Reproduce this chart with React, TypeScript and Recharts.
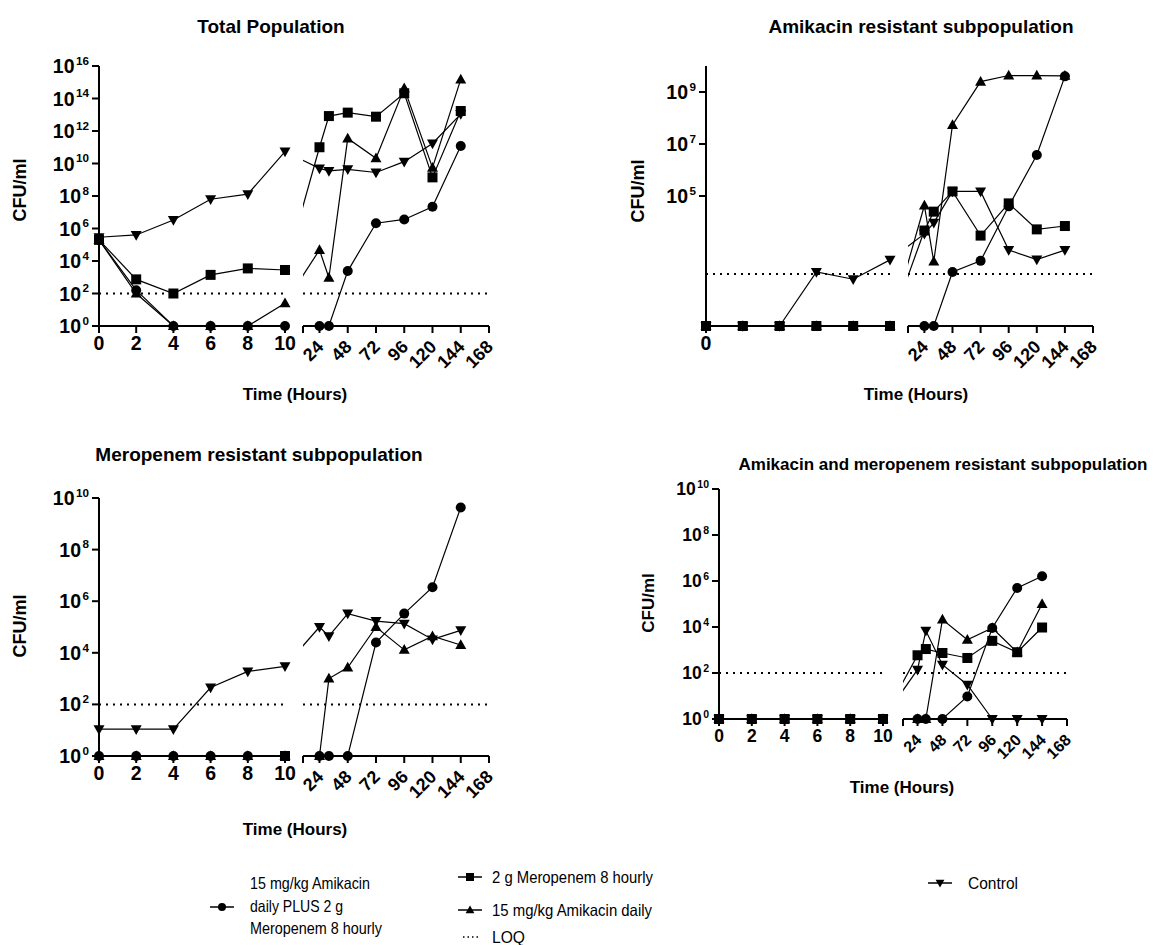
import React from "react";
import { LineChart, Line, XAxis, YAxis, ReferenceLine } from "recharts";

const FONT = '"Liberation Sans", Arial, Helvetica, sans-serif';

// sampling times (hours); the first six sit on the 0–10 h segment of the broken axis
const HOURS = [0, 2, 4, 6, 8, 10, 24, 32, 48, 72, 96, 120, 144];
const EARLY_COUNT = 6;
const EARLY_TICKS = [0, 2, 4, 6, 8, 10];
const ZERO_TICK = [0];
const LATE_TICKS = [10, 24, 48, 72, 96, 120, 144, 168];
const LOQ = 100;

const Y_TICKS_16 = [1, 1e2, 1e4, 1e6, 1e8, 1e10, 1e12, 1e14, 1e16];
const Y_TICKS_10 = [1, 1e2, 1e4, 1e6, 1e8, 1e10];
const Y_TICKS_ODD = [1e5, 1e7, 1e9];

// ── Total population (CFU/ml) ───────────────────────────────────────────────
const totalCombo = [2e5, 1.6e2, 1, 1, 1, 1, 1, 1, 2.4e3, 2.1e6, 3.6e6, 2.2e7, 1.2e11];
const totalMero = [2e5, 7.4e2, 1e2, 1.4e3, 3.5e3, 2.8e3, 1e11, 8.3e12, 1.35e13, 7.6e12, 2.1e14, 1.4e9, 1.7e13];
const totalAmik = [2e5, 1e2, 1, 1, 1, 25, 4.8e4, 9.3e2, 3.5e11, 2.1e10, 4.2e14, 5.5e9, 1.5e15];
const totalControl = [2.9e5, 4e5, 3.3e6, 6.3e7, 1.3e8, 5.4e10, 5e9, 3.5e9, 4.4e9, 2.8e9, 1.3e10, 1.7e11, 1.1e13];

// ── Amikacin resistant subpopulation ────────────────────────────────────────
const amiResCombo = [1, 1, 1, 1, 1, 1, 1, 1, 1.2e2, 3.2e2, 4e4, 3.8e6, 4e9];
const amiResMero = [1, 1, 1, 1, 1, 1, 4.7e3, 2.5e4, 1.5e5, 3e3, 5.2e4, 5.2e3, 7e3];
const amiResAmik = [1, 1, 1, 1, 1, 1, 4.3e4, 3e2, 5.4e7, 2.5e9, 4.3e9, 4.3e9, 4.2e9];
const amiResControl = [1, 1, 1, 1.2e2, 63, 3.5e2, 3.5e3, 9.3e3, 1.5e5, 1.5e5, 8.3e2, 3.6e2, 8.3e2];

// ── Meropenem resistant subpopulation ───────────────────────────────────────
const merResCombo = [1, 1, 1, 1, 1, 1, 1, 1, 1, 2.5e4, 3.3e5, 3.5e6, 4.3e9];
const merResMero = [null, null, null, null, null, 1, null, null, null, null, null, null, null];
const merResAmik = [1, 1, 1, 1, 1, 1, 1, 1e3, 2.7e3, 1e5, 1.3e4, 4.4e4, 2e4];
const merResControl = [11, 11, 11, 4.5e2, 1.9e3, 3e3, 1e5, 4.4e4, 3.3e5, 1.7e5, 1.35e5, 3.3e4, 7.4e4];

// ── Amikacin and meropenem resistant subpopulation ──────────────────────────
const dualResCombo = [1, 1, 1, 1, 1, 1, 1, 1, 1, 9.5, 9e3, 5e5, 1.6e6];
const dualResMero = [1, 1, 1, 1, 1, 1, 5.9e2, 1.1e3, 7.4e2, 4.5e2, 2.5e3, 8e2, 9.5e3];
const dualResAmik = [1, 1, 1, 1, 1, 1, 1, 1, 2.1e4, 2.8e3, 9e3, 8e2, 1e5];
const dualResControl = [1, 1, 1, 1, 1, 1, 1.4e2, 6.9e3, 2.3e2, 31, 1, 1, 1];

type Key = "combo" | "mero" | "amik" | "control";
type Shape = "circle" | "square" | "up" | "down";
type Vals = (number | null)[];

const SHAPES: Record<Key, Shape> = { combo: "circle", mero: "square", amik: "up", control: "down" };

interface Panel {
  title: string;
  titleX: number;
  titleY: number;
  titleSize: number;
  xLabelX: number;
  xLabelY: number;
  yLabelX: number;
  yLabelY: number;
  labelSize: number;
  tickFont: number;
  top: number;
  bottom: number;
  lx0: number;
  lx1: number;
  rx0: number;
  rx1: number;
  yMax: number;
  yTicks: number[];
  earlyTicks: number[];
  series: Record<Key, Vals>;
  order: Key[];
}

const PANELS: Panel[] = [
  {
    title: "Total Population", titleX: 271, titleY: 33, titleSize: 19,
    xLabelX: 295, xLabelY: 400, yLabelX: 20, yLabelY: 190, labelSize: 18, tickFont: 19.5,
    top: 66, bottom: 326, lx0: 99, lx1: 285, rx0: 303, rx1: 489,
    yMax: 1e16, yTicks: Y_TICKS_16, earlyTicks: EARLY_TICKS,
    series: { combo: totalCombo, mero: totalMero, amik: totalAmik, control: totalControl },
    order: ["control", "amik", "combo", "mero"],
  },
  {
    title: "Amikacin resistant subpopulation", titleX: 921, titleY: 33, titleSize: 19,
    xLabelX: 916, xLabelY: 400, yLabelX: 638, yLabelY: 191, labelSize: 18, tickFont: 19.5,
    top: 66, bottom: 326, lx0: 706, lx1: 890, rx0: 908, rx1: 1093,
    yMax: 1e10, yTicks: Y_TICKS_ODD, earlyTicks: ZERO_TICK,
    series: { combo: amiResCombo, mero: amiResMero, amik: amiResAmik, control: amiResControl },
    order: ["control", "amik", "combo", "mero"],
  },
  {
    title: "Meropenem resistant subpopulation", titleX: 259, titleY: 461, titleSize: 19,
    xLabelX: 295, xLabelY: 835, yLabelX: 20, yLabelY: 626, labelSize: 18, tickFont: 19.5,
    top: 498, bottom: 756, lx0: 99, lx1: 285, rx0: 303, rx1: 489,
    yMax: 1e10, yTicks: Y_TICKS_10, earlyTicks: EARLY_TICKS,
    series: { combo: merResCombo, mero: merResMero, amik: merResAmik, control: merResControl },
    order: ["control", "amik", "mero", "combo"],
  },
  {
    title: "Amikacin and meropenem resistant subpopulation", titleX: 943, titleY: 470, titleSize: 17,
    xLabelX: 902, xLabelY: 793, yLabelX: 648, yLabelY: 603, labelSize: 17, tickFont: 17.5,
    top: 489, bottom: 719, lx0: 719, lx1: 883, rx0: 903, rx1: 1067,
    yMax: 1e10, yTicks: Y_TICKS_10, earlyTicks: EARLY_TICKS,
    series: { combo: dualResCombo, mero: dualResMero, amik: dualResAmik, control: dualResControl },
    order: ["control", "amik", "combo", "mero"],
  },
];

const M_TOP = 12;
const M_RIGHT = 20;
const Y_W = 95;
const X_H = 48;
const R_ML = 12;
const R_MR = 14;
const AXIS = { stroke: "#000", strokeWidth: 2 };

function marker(shape: Shape, size: number) {
  return (props: any) => {
    const { cx, cy, index } = props;
    const k = `m-${index}`;
    if (cx == null || cy == null || !isFinite(cy)) return <g key={k} />;
    const r = size / 2;
    if (shape === "circle") return <circle key={k} cx={cx} cy={cy} r={r} fill="#000" />;
    if (shape === "square")
      return <rect key={k} x={cx - r} y={cy - r} width={size} height={size} fill="#000" />;
    const s = shape === "up" ? 1 : -1;
    const d = `M${cx} ${cy - s * r * 1.15}L${cx + r * 1.1} ${cy + s * r * 0.8}L${cx - r * 1.1} ${cy + s * r * 0.8}Z`;
    return <path key={k} d={d} fill="#000" />;
  };
}

function PowTick(props: any) {
  const { x, y, payload, fontSize } = props;
  const exp = Math.round(Math.log10(payload.value));
  return (
    <text x={x} y={y + fontSize * 0.36} textAnchor="end" fontFamily={FONT} fontWeight="bold" fontSize={fontSize} fill="#000">
      10
      <tspan dx={1.5} dy={-fontSize * 0.42} fontSize={fontSize * 0.6}>{exp}</tspan>
    </text>
  );
}

function EarlyTick(props: any) {
  const { x, y, payload, fontSize } = props;
  return (
    <text x={x} y={y} dy="0.78em" textAnchor="middle" fontFamily={FONT} fontWeight="bold" fontSize={fontSize} fill="#000">
      {payload.value}
    </text>
  );
}

function SlantTick(props: any) {
  const { x, y, payload, fontSize } = props;
  if (payload.value === 10) return <g />;
  const ax = x + 5;
  const ay = y + 13;
  return (
    <text x={ax} y={ay} transform={`rotate(-45 ${ax} ${ay})`} textAnchor="end" fontFamily={FONT} fontWeight="bold" fontSize={fontSize} fill="#000">
      {payload.value}
    </text>
  );
}

function rows(p: Panel, from: number, to: number) {
  return HOURS.slice(from, to).map((t, j) => {
    const row: Record<string, number | null> = { t };
    (Object.keys(p.series) as Key[]).forEach((k) => {
      row[k] = p.series[k][from + j];
    });
    return row;
  });
}

function PanelView({ p }: { p: Panel }) {
  const early = rows(p, 0, EARLY_COUNT);
  const late = rows(p, EARLY_COUNT, HOURS.length);
  const h = p.bottom - p.top + M_TOP + X_H;
  const leftW = p.lx1 - p.lx0 + Y_W + M_RIGHT;
  const rightW = p.rx1 - p.rx0 + R_ML + R_MR;

  // hidden axis that carries the 10 h → 24 h connectors across the break,
  // so they run straight between the two segments and get clipped in the gap
  const rStart = LATE_TICKS[0];
  const rEnd = LATE_TICKS[LATE_TICKS.length - 1];
  const r24 = p.rx0 + ((24 - rStart) * (p.rx1 - p.rx0)) / (rEnd - rStart);
  const slope = (r24 - p.lx1) / 14;
  const bridgeDomain = [10 + (p.rx0 - p.lx1) / slope, 10 + (p.rx1 - p.lx1) / slope];

  const lineProps = { type: "linear" as const, stroke: "#000", strokeWidth: 1.2, activeDot: false, isAnimationActive: false };
  const loq = <ReferenceLine y={LOQ} stroke="#000" strokeWidth={2} strokeDasharray="2 5" />;

  return (
    <>
      <div style={{ position: "absolute", left: p.lx0 - Y_W, top: p.top - M_TOP }}>
        <LineChart width={leftW} height={h} data={early} margin={{ top: M_TOP, right: M_RIGHT, bottom: 0, left: 0 }}>
          <XAxis
            dataKey="t"
            type="number"
            domain={[0, 10]}
            ticks={p.earlyTicks}
            interval={0}
            height={X_H}
            axisLine={AXIS}
            tickLine={AXIS}
            tickSize={7}
            tick={(t: any) => <EarlyTick {...t} fontSize={p.tickFont} />}
          />
          <YAxis
            type="number"
            scale="log"
            domain={[1, p.yMax]}
            ticks={p.yTicks}
            interval={0}
            width={Y_W}
            axisLine={AXIS}
            tickLine={AXIS}
            tickSize={7}
            tickMargin={3}
            tick={(t: any) => <PowTick {...t} fontSize={p.tickFont} />}
          />
          {loq}
          {p.order.map((k) => (
            <Line key={k} dataKey={k} {...lineProps} dot={marker(SHAPES[k], 10)} />
          ))}
        </LineChart>
      </div>
      <div style={{ position: "absolute", left: p.rx0 - R_ML, top: p.top - M_TOP }}>
        <LineChart width={rightW} height={h} data={late} margin={{ top: M_TOP, right: R_MR, bottom: 0, left: R_ML }}>
          <XAxis
            dataKey="t"
            type="number"
            domain={[rStart, rEnd]}
            ticks={LATE_TICKS}
            interval={0}
            height={X_H}
            axisLine={AXIS}
            tickLine={AXIS}
            tickSize={7}
            tick={(t: any) => <SlantTick {...t} fontSize={p.tickFont - 1.5} />}
          />
          <XAxis xAxisId="bridge" dataKey="t" type="number" domain={bridgeDomain} allowDataOverflow hide />
          <YAxis type="number" scale="log" domain={[1, p.yMax]} hide />
          {loq}
          {p.order.map((k) => {
            const a = p.series[k][EARLY_COUNT - 1];
            const b = p.series[k][EARLY_COUNT];
            if (a == null || b == null) return null;
            return (
              <Line
                key={`bridge-${k}`}
                xAxisId="bridge"
                data={[{ t: 10, v: a }, { t: 24, v: b }]}
                dataKey="v"
                {...lineProps}
                dot={false}
              />
            );
          })}
          {p.order.map((k) => (
            <Line key={k} dataKey={k} {...lineProps} dot={marker(SHAPES[k], 10)} />
          ))}
        </LineChart>
      </div>
    </>
  );
}

function LegendMark({ shape, x, y }: { shape: Shape; x: number; y: number }) {
  const r = 4;
  let m: React.ReactNode;
  if (shape === "circle") m = <circle cx={x} cy={y} r={r} fill="#000" />;
  else if (shape === "square") m = <rect x={x - r} y={y - r} width={2 * r} height={2 * r} fill="#000" />;
  else {
    const s = shape === "up" ? 1 : -1;
    m = <path d={`M${x} ${y - s * r * 1.15}L${x + r * 1.1} ${y + s * r * 0.8}L${x - r * 1.1} ${y + s * r * 0.8}Z`} fill="#000" />;
  }
  return (
    <g>
      <line x1={x - 12} x2={x + 12} y1={y} y2={y} stroke="#000" strokeWidth={1.5} />
      {m}
    </g>
  );
}

function LegendText({ x, y, width, children }: { x: number; y: number; width: number; children: string }) {
  return (
    <text x={x} y={y} fontFamily={FONT} fontSize={16.5} fill="#000" textLength={width} lengthAdjust="spacingAndGlyphs">
      {children}
    </text>
  );
}

function Overlay() {
  const txt = { fontFamily: FONT, fill: "#000" };
  return (
    <svg width={1165} height={945} style={{ position: "absolute", left: 0, top: 0, pointerEvents: "none" }}>
      {PANELS.map((p, i) => (
        <g key={i}>
          <text x={p.titleX} y={p.titleY} textAnchor="middle" fontWeight="bold" fontSize={p.titleSize} {...txt}>
            {p.title}
          </text>
          <text x={p.xLabelX} y={p.xLabelY} textAnchor="middle" fontWeight="bold" fontSize={17} {...txt}>
            Time (Hours)
          </text>
          <text
            x={p.yLabelX}
            y={p.yLabelY}
            textAnchor="middle"
            dominantBaseline="central"
            transform={`rotate(-90 ${p.yLabelX} ${p.yLabelY})`}
            fontWeight="bold"
            fontSize={p.labelSize}
            {...txt}
          >
            CFU/ml
          </text>
        </g>
      ))}

      <LegendMark shape="circle" x={222} y={907} />
      <LegendText x={250} y={889} width={120}>15 mg/kg Amikacin</LegendText>
      <LegendText x={250} y={912} width={93}>daily PLUS 2 g</LegendText>
      <LegendText x={250} y={934} width={132}>Meropenem 8 hourly</LegendText>

      <LegendMark shape="square" x={470} y={877} />
      <LegendText x={492} y={883} width={161}>2 g Meropenem 8 hourly</LegendText>
      <LegendMark shape="up" x={470} y={910} />
      <LegendText x={492} y={916} width={160}>15 mg/kg Amikacin daily</LegendText>
      <line x1={463} x2={480} y1={937} y2={937} stroke="#000" strokeWidth={1.5} strokeDasharray="1.5 3" />
      <LegendText x={492} y={943} width={33}>LOQ</LegendText>

      <LegendMark shape="down" x={940} y={883} />
      <LegendText x={968} y={889} width={50}>Control</LegendText>
    </svg>
  );
}

export default function App() {
  return (
    <div style={{ position: "absolute", left: 0, top: 0, width: 1165, height: 945, background: "#fff", overflow: "hidden" }}>
      {PANELS.map((p, i) => (
        <PanelView key={i} p={p} />
      ))}
      <Overlay />
    </div>
  );
}
